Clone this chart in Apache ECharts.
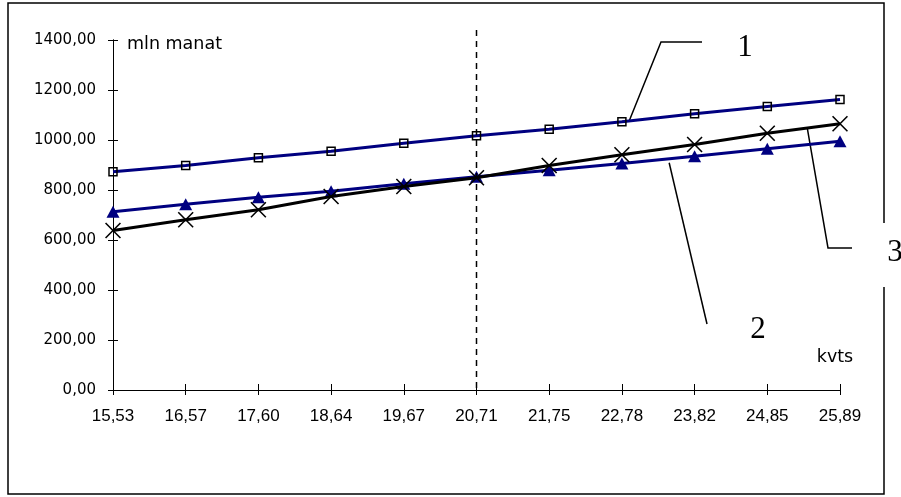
<!DOCTYPE html>
<html>
<head>
<meta charset="utf-8">
<script src="https://cdn.jsdelivr.net/npm/echarts@6/dist/echarts.min.js"></script>
<style>
  html, body { margin: 0; padding: 0; background: #fff; }
  #chart { width: 901px; height: 497px; }
</style>
</head>
<body>
<div id="chart"></div>
<script>
// Price levels (kvts) along the horizontal axis
const categories = ['15,53', '16,57', '17,60', '18,64', '19,67', '20,71', '21,75', '22,78', '23,82', '24,85', '25,89'];
// Curve 1 (squares), curve 2 (triangles), curve 3 (crosses), mln manat
const curve1 = [873, 898, 929, 955, 987, 1017, 1043, 1073, 1105, 1134, 1162];
const curve2 = [713, 743, 771, 795, 825, 853, 879, 906, 935, 965, 995];
const curve3 = [638, 681, 721, 774, 814, 849, 898, 941, 982, 1027, 1065];
// Value axis range
const yMin = 0, yMax = 1400, yStep = 200;
// Category where the dashed marker line is drawn
const markerCategory = '20,71';
const curveNames = ['1', '2', '3'];

const NAVY = '#000080';
const crossPath = 'path://M0,0.7L0.7,0L10,9.3L9.3,10Z M9.3,0L10,0.7L0.7,10L0,9.3Z';
const gridBox = { left: 113, right: 61, top: 40, bottom: 107, containLabel: false };

const chart = echarts.init(document.getElementById('chart'), null, { renderer: 'canvas' });

const fmt = v => v.toFixed(2).replace('.', ',');

const baseX = {
  type: 'category',
  data: categories,
  boundaryGap: false,
  position: 'bottom',
  axisLine: { show: true, lineStyle: { color: '#000', width: 1 } },
  splitLine: { show: false }
};
const baseY = {
  type: 'value',
  min: yMin, max: yMax, interval: yStep,
  position: 'left',
  axisLine: { show: true, lineStyle: { color: '#000', width: 1 } },
  splitLine: { show: false }
};

chart.setOption({
  animation: false,
  backgroundColor: '#fff',
  // second grid overlays the first one and carries the inner half of each tick
  grid: [Object.assign({}, gridBox), Object.assign({}, gridBox)],
  xAxis: [
    Object.assign({}, baseX, {
      gridIndex: 0,
      axisTick: { show: true, inside: false, length: 5, lineStyle: { color: '#000' } },
      axisLabel: { color: '#000', fontFamily: 'Liberation Sans', fontSize: 17, margin: 18 }
    }),
    Object.assign({}, baseX, {
      gridIndex: 1,
      axisTick: { show: true, inside: true, length: 6, lineStyle: { color: '#000' } },
      axisLabel: { show: false }
    })
  ],
  yAxis: [
    Object.assign({}, baseY, {
      gridIndex: 0,
      axisTick: { show: true, inside: false, length: 5, lineStyle: { color: '#000' } },
      axisLabel: { color: '#000', fontFamily: 'DejaVu Sans', fontSize: 15, margin: 17, formatter: fmt }
    }),
    Object.assign({}, baseY, {
      gridIndex: 1,
      axisTick: { show: true, inside: true, length: 5, lineStyle: { color: '#000' } },
      axisLabel: { show: false }
    })
  ],
  series: [
    {
      name: curveNames[0], type: 'line', data: curve1,
      symbol: 'rect', symbolSize: 8,
      lineStyle: { color: NAVY, width: 3 },
      itemStyle: { color: 'rgba(0,0,0,0)', borderColor: '#000', borderWidth: 1.5 },
      z: 3
    },
    {
      name: curveNames[1], type: 'line', data: curve2,
      symbol: 'triangle', symbolSize: [13, 12],
      lineStyle: { color: NAVY, width: 3 },
      itemStyle: { color: NAVY, borderWidth: 0 },
      z: 2
    },
    {
      name: curveNames[2], type: 'line', data: curve3,
      symbol: crossPath, symbolSize: 16,
      lineStyle: { color: '#000', width: 3 },
      itemStyle: { color: '#000', borderWidth: 0 },
      z: 4
    }
  ]
});

// Pixel position on a curve at a fractional category index
function along(values, f) {
  const i = Math.min(Math.floor(f), values.length - 2);
  const t = f - i;
  const a = chart.convertToPixel({ gridIndex: 0 }, [i, values[i]]);
  const b = chart.convertToPixel({ gridIndex: 0 }, [i + 1, values[i + 1]]);
  return [a[0] + (b[0] - a[0]) * t, a[1] + (b[1] - a[1]) * t];
}

const markerIdx = categories.indexOf(markerCategory);
const markerBottom = chart.convertToPixel({ gridIndex: 0 }, [markerIdx, yMin]);

const s1 = along(curve1, 7.1);
const s2 = along(curve2, 7.65);
const s3 = along(curve3, 9.55);

const leader = (pts) => ({
  type: 'polyline',
  shape: { points: pts },
  style: { stroke: '#000', lineWidth: 1.5, fill: null },
  silent: true
});
const callout = (text, x, y) => ({
  type: 'text',
  x: x, y: y,
  style: {
    text: text, fill: '#000', font: '31px "Liberation Serif"',
    align: 'center', verticalAlign: 'middle'
  },
  silent: true
});

chart.setOption({
  graphic: [
    // outer frame (right edge interrupted by callout 3)
    leader([[884, 223], [884, 3], [8, 3], [8, 494], [884, 494], [884, 287]]),
    // dashed marker line
    {
      type: 'line',
      shape: { x1: markerBottom[0], y1: 30, x2: markerBottom[0], y2: markerBottom[1] },
      style: { stroke: '#000', lineWidth: 1.5, lineDash: [6, 5] },
      z: 10, silent: true
    },
    // axis captions
    {
      type: 'text', x: 127, y: 44,
      style: { text: 'mln manat', fill: '#000', font: '17.5px "DejaVu Sans"', verticalAlign: 'middle' },
      silent: true
    },
    {
      type: 'text', x: 835, y: 357,
      style: { text: 'kvts', fill: '#000', font: '17.5px "DejaVu Sans"', align: 'center', verticalAlign: 'middle' },
      silent: true
    },
    // callouts
    leader([s1, [661, 42], [702, 42]]),
    callout(curveNames[0], 745, 48),
    leader([[s2[0], s2[1] + 4], [707, 324]]),
    callout(curveNames[1], 758, 330),
    leader([s3, [828, 248], [852, 248]]),
    callout(curveNames[2], 895, 253)
  ]
});
</script>
</body>
</html>
